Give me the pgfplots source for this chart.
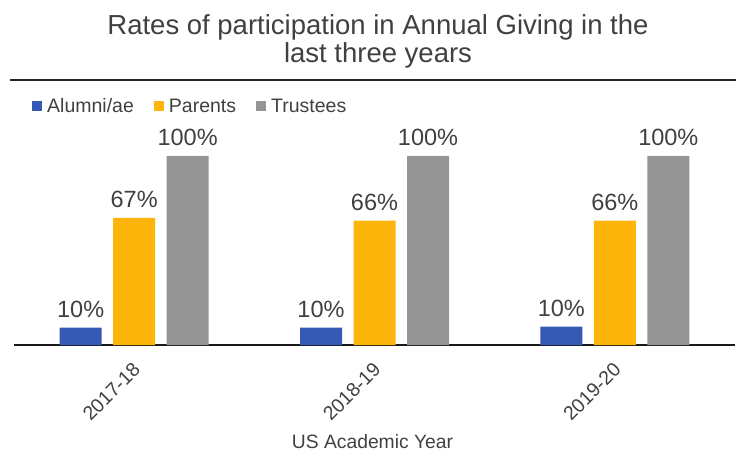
\documentclass[border=0pt]{standalone}
\usepackage{fontspec}
\setmainfont{Liberation Sans}
\usepackage{pgfplots}
\pgfplotsset{compat=1.18}
\definecolor{cblue}{HTML}{3559B4}
\definecolor{corange}{HTML}{FDB40B}
\definecolor{cgray}{HTML}{959595}
\definecolor{ctext}{HTML}{404040}
\definecolor{cgrid}{HTML}{D9D9D9}
\begin{document}
\begin{tikzpicture}[x=1pt,y=1pt]
\path[use as bounding box] (0,0) rectangle (756,-457);
\node[anchor=base, text=ctext, font=\fontsize{27.5}{28}\selectfont, inner sep=0pt] at (378,-35) {Rates of participation in Annual Giving in the};
\node[anchor=base, text=ctext, font=\fontsize{27.5}{28}\selectfont, inner sep=0pt] at (378,-63) {last three years};
\draw[line width=1.5pt, color=black!85] (10,-80) -- (736,-80);
\begin{axis}[
  at={(14pt,-345pt)}, anchor=south west,
  scale only axis, width=721pt, height=226.8pt,
  xmin=-0.5, xmax=2.5, ymin=0, ymax=120,
  ybar=11.5pt, bar width=42pt,
  axis x line*=bottom, axis y line=none,
  x axis line style={-, line width=1.3pt, color=black!90},
  ytick={0,20,40,60,80,100,120}, yticklabels={},
  ymajorgrids, grid style={cgrid, line width=1pt},
  major tick length=0pt,
  xtick={0,1,2}, xticklabels={2017-18,2018-19,2019-20},
  xticklabel style={xshift=5pt, yshift=-19pt, rotate=45, anchor=east, text=ctext, font=\fontsize{19.5}{21}\selectfont},
  xlabel={US Academic Year},
  xlabel style={at={(axis description cs:0.5,0)}, anchor=base, yshift=-103pt, xshift=-2pt, text=ctext, font=\fontsize{19.3}{20}\selectfont},
  clip=false,
  point meta=explicit symbolic,
  nodes near coords,
  every node near coord/.append style={anchor=base, yshift=10pt, text=ctext, font=\fontsize{23.5}{25}\selectfont, inner sep=0pt},
  legend columns=3,
  legend style={at={(axis description cs:0.025,1.053)}, anchor=west, draw=none, fill=none, inner sep=0pt,
    font=\fontsize{19.5}{20}\selectfont, text=ctext,
    /tikz/every odd column/.append style={column sep=0pt},
    /tikz/every even column/.append style={column sep=18pt}},
  legend image code/.code={\fill[#1] (0pt,-5pt) rectangle (10pt,5pt); \path (13pt,0pt);},
]
\addplot[fill=cblue, draw=none] coordinates {(0,9.2)[10\%] (1,9.2)[10\%] (2,9.7)[10\%]};
\addplot[fill=corange, draw=none] coordinates {(0,67.2)[67\%] (1,65.8)[66\%] (2,65.8)[66\%]};
\addplot[fill=cgray, draw=none] coordinates {(0,100)[100\%] (1,100)[100\%] (2,100)[100\%]};
\legend{Alumni/ae, Parents, Trustees}
\end{axis}
\end{tikzpicture}
\end{document}
